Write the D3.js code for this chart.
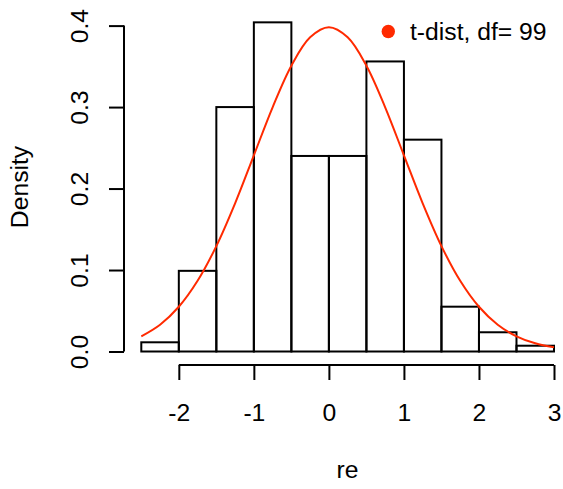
<!DOCTYPE html>
<html>
<head>
<meta charset="utf-8">
<script src="https://cdn.jsdelivr.net/npm/d3@7"></script>
<style>
  html, body { margin: 0; padding: 0; background: #fff; }
  svg { display: block; font-family: "Liberation Sans", Arial, Helvetica, sans-serif; }
</style>
</head>
<body>
<svg id="chart" width="563" height="489"></svg>
<script>
// Histogram bins (break points) and densities
const binEdges = [-2.5, -2, -1.5, -1, -0.5, 0, 0.5, 1, 1.5, 2, 2.5, 3];
const binDensity = [0.0113, 0.099, 0.300, 0.404, 0.240, 0.240, 0.356, 0.260, 0.055, 0.0236, 0.0071];

// t-distribution (df = 99) density curve, sampled values
const curveX = [-2.5, -2.25, -2, -1.75, -1.5, -1.25, -1, -0.75, -0.5, -0.25, 0,
                0.25, 0.5, 0.75, 1, 1.25, 1.5, 1.75, 2, 2.25, 2.5, 2.75, 3];
const curveY = [0.01864, 0.03288, 0.05492, 0.08676, 0.12937, 0.18187, 0.24076, 0.29976, 0.35079, 0.38558, 0.39794,
                0.38558, 0.35079, 0.29976, 0.24076, 0.18187, 0.12937, 0.08676, 0.05492, 0.03288, 0.01864, 0.01003, 0.005133];

const xTicks = [-2, -1, 0, 1, 2, 3];
const yTicks = [0.0, 0.1, 0.2, 0.3, 0.4];
const legendLabel = "t-dist, df= 99";
const xTitle = "re";
const yTitle = "Density";

const svg = d3.select("#chart");
const x = d3.scaleLinear().domain([-2.5, 3]).range([141.3, 554]);
const y = d3.scaleLinear().domain([0, 0.4]).range([351.5, 25.6]);

const red = "#ff2a00";
const fontSize = 24.7;

// Bars
const bins = binDensity.map((d, i) => ({x0: binEdges[i], x1: binEdges[i + 1], d}));
svg.append("g").selectAll("rect").data(bins).join("rect")
  .attr("x", b => x(b.x0))
  .attr("y", b => y(b.d))
  .attr("width", b => x(b.x1) - x(b.x0))
  .attr("height", b => y(0) - y(b.d))
  .attr("fill", "none")
  .attr("stroke", "#000")
  .attr("stroke-width", 2);

// Density curve
const pts = curveX.map((v, i) => [v, curveY[i]]);
svg.append("path")
  .datum(pts)
  .attr("d", d3.line().x(p => x(p[0])).y(p => y(p[1])).curve(d3.curveCatmullRom))
  .attr("fill", "none")
  .attr("stroke", red)
  .attr("stroke-width", 2);

// X axis
const xAxis = svg.append("g")
  .attr("transform", "translate(0,365)")
  .call(d3.axisBottom(x).tickValues(xTicks).tickFormat(d3.format("d")).tickSize(15).tickSizeOuter(0));
xAxis.select(".domain").attr("d", `M${x(-2)},0H${x(3)}`).attr("stroke-width", 2);
xAxis.selectAll(".tick line").attr("stroke-width", 2);
xAxis.selectAll(".tick text")
  .attr("y", 56).attr("dy", null)
  .attr("font-size", fontSize)
  .attr("font-family", "Liberation Sans, Arial, sans-serif")
  .attr("fill", "#000")
  .text(d => d < 0 ? "-" + Math.abs(d) : String(d));

// Y axis
const yAxis = svg.append("g")
  .attr("transform", "translate(124,0)")
  .call(d3.axisLeft(y).tickValues(yTicks).tickFormat(d3.format(".1f")).tickSize(15).tickSizeOuter(0));
yAxis.select(".domain").attr("d", `M0,${y(0)}V${y(0.4)}`).attr("stroke-width", 2);
yAxis.selectAll(".tick line").attr("stroke-width", 2);
yAxis.selectAll(".tick text")
  .attr("x", null).attr("dy", null).attr("y", null)
  .attr("transform", "translate(-36,0) rotate(-90)")
  .attr("text-anchor", "middle")
  .attr("font-size", fontSize)
  .attr("font-family", "Liberation Sans, Arial, sans-serif")
  .attr("fill", "#000");

// Axis titles
svg.append("text")
  .attr("x", 347.6).attr("y", 478)
  .attr("text-anchor", "middle")
  .attr("font-size", fontSize)
  .text(xTitle);
svg.append("text")
  .attr("transform", "translate(28,187) rotate(-90)")
  .attr("text-anchor", "middle")
  .attr("font-size", fontSize)
  .text(yTitle);

// Legend
svg.append("circle").attr("cx", 388.3).attr("cy", 31.5).attr("r", 6.7).attr("fill", red);
svg.append("text")
  .attr("x", 410).attr("y", 40)
  .attr("font-size", fontSize)
  .text(legendLabel);
</script>
</body>
</html>
